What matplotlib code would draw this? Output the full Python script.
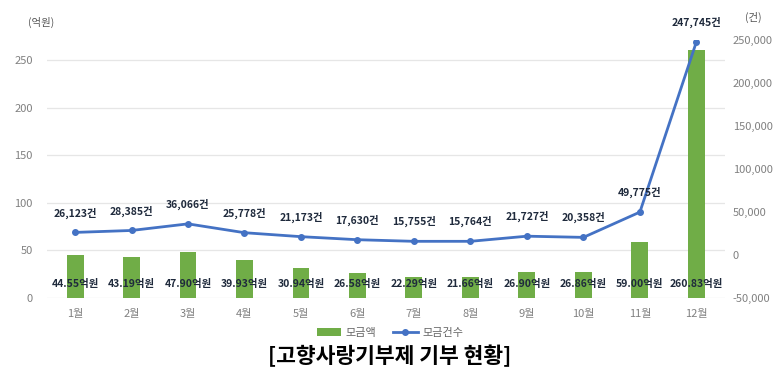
import matplotlib
matplotlib.use("Agg")
import matplotlib.pyplot as plt
from matplotlib.ticker import FuncFormatter

plt.rcParams["font.family"] = ["Noto Sans CJK KR", "DejaVu Sans"]

months = ["1월", "2월", "3월", "4월", "5월", "6월", "7월", "8월", "9월", "10월", "11월", "12월"]
amount = [44.55, 43.19, 47.90, 39.93, 30.94, 26.58, 22.29, 21.66, 26.90, 26.86, 59.00, 260.83]
count = [26123, 28385, 36066, 25778, 21173, 17630, 15755, 15764, 21727, 20358, 49775, 247745]
left_ticks = [0, 50, 100, 150, 200, 250]
right_ticks = [-50000, 0, 50000, 100000, 150000, 200000, 250000]

GREEN = "#70AD47"
BLUE = "#4472C4"
TICK = "#808080"
LABEL = "#1F2A3C"

fig = plt.figure(figsize=(7.8, 3.7), dpi=100)
ax = fig.add_axes([0.060, 0.195, 0.869, 0.697])
ax2 = ax.twinx()

x = list(range(len(months)))
ax.bar(x, amount, width=0.3, color=GREEN, zorder=2, label="모금액")
ax.set_ylim(0, 271)
ax.set_xlim(-0.5, len(months) - 0.5)
ax.set_yticks(left_ticks)
ax.set_xticks(x)
ax.set_xticklabels(months)
ax.grid(axis="y", color="#E6E6E6", lw=0.9, zorder=0)
ax.set_axisbelow(True)

ax2.plot(x, count, color=BLUE, lw=2, marker="o", ms=4, zorder=3, label="모금건수")
ax2.set_ylim(-50000, 250000)
ax2.set_yticks(right_ticks)
ax2.yaxis.set_major_formatter(FuncFormatter(lambda v, p: f"{int(v):,}"))

for a in (ax, ax2):
    for s in a.spines.values():
        s.set_visible(False)
    a.tick_params(length=0, labelsize=8, colors=TICK)
ax.tick_params(axis="x", pad=8)
ax.tick_params(axis="y", pad=10)
ax2.tick_params(axis="y", pad=6)

for xi, v in zip(x, amount):
    ax.text(xi, 14.7, f"{v:.2f}억원", ha="center", va="center",
            fontsize=7.5, fontweight="bold", color=LABEL, zorder=4)
for xi, v in zip(x, count):
    ax2.annotate(f"{v:,}건", (xi, v), xytext=(0, 10), textcoords="offset points",
                 ha="center", va="bottom", fontsize=7.5, fontweight="bold",
                 color=LABEL, zorder=4)

fig.text(0.036, 0.94, "(억원)", fontsize=7.5, color="#555555", ha="left", va="center")
fig.text(0.955, 0.953, "(건)", fontsize=7.5, color="#555555", ha="left", va="center")

h1, l1 = ax.get_legend_handles_labels()
h2, l2 = ax2.get_legend_handles_labels()
fig.legend(h1 + h2, l1 + l2, loc="center", bbox_to_anchor=(0.5, 0.1), ncol=2,
           frameon=False, fontsize=8, labelcolor="#666666", handlelength=2.2,
           columnspacing=1.5, handletextpad=0.4)

fig.text(0.5, 0.037, "[고향사랑기부제 기부 현황]", ha="center", va="center",
         fontsize=15.5, fontweight="bold", color="black")

fig.savefig("out.png", dpi=100)
